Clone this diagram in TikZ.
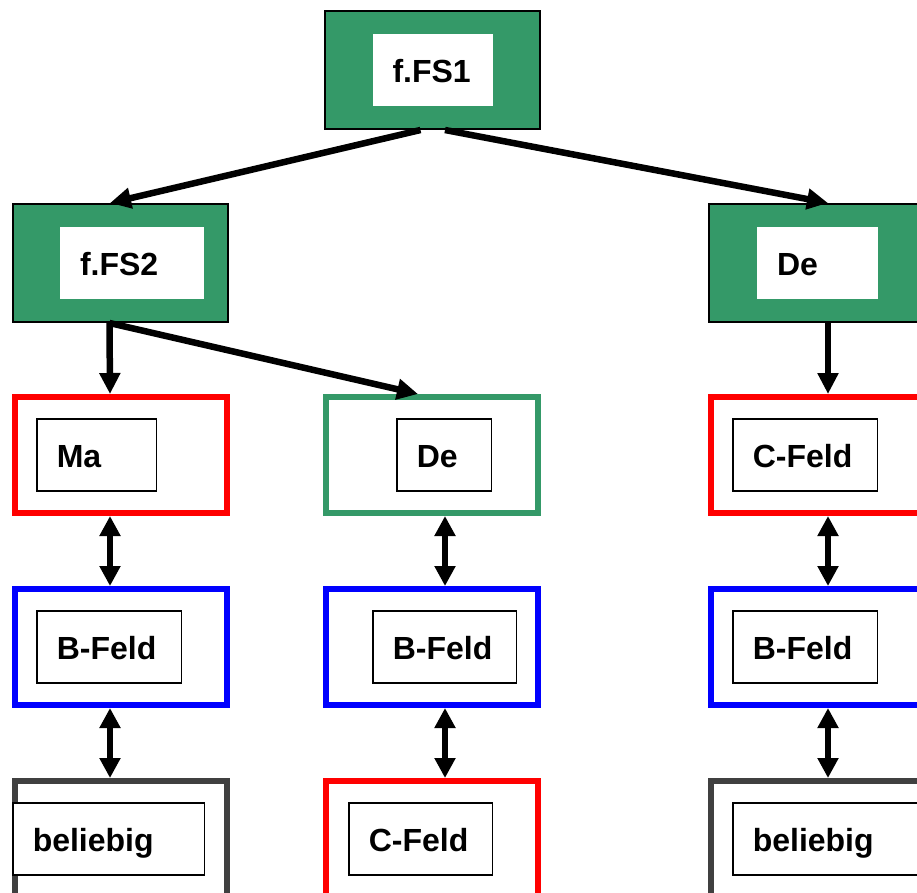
\documentclass[tikz,border=0pt]{standalone}
\usepackage{fontspec}
\setmainfont{Liberation Sans}
\usetikzlibrary{arrows.meta}
\definecolor{fsgreen}{RGB}{52,153,104}
\definecolor{framegray}{RGB}{64,64,64}
\tikzset{
  gbox/.style={draw=black,line width=2pt,fill=fsgreen,minimum width=215pt,minimum height=118pt,inner sep=0pt},
  fbox/.style={draw=#1,line width=6pt,minimum width=212pt,minimum height=116pt,inner sep=0pt},
  wbox/.style={fill=white,minimum height=72pt,inner xsep=20pt,inner ysep=0pt,text width=#1,align=left,
    font=\bfseries\fontsize{32}{37}\selectfont,text height=24pt,text depth=0pt},
  inbox/.style={wbox=#1,draw=black,line width=1.5pt},
  arr/.style={line width=6.5pt,-{Triangle[length=21pt,width=20pt]}},
  darr/.style={line width=6.5pt,{Triangle[length=20pt,width=20pt]}-{Triangle[length=20pt,width=20pt]}}
}
\begin{document}
\begin{tikzpicture}[x=1pt,y=-1pt]
            \useasboundingbox (0,0) rectangle (917,892);
            \clip (0,0) rectangle (917,892);
            % outer boxes
            \node[gbox] (fsone) at (432.5,70) {};
            \node[gbox] (fstwo) at (120.5,263) {};
            \node[gbox] (deR) at (816.5,263) {};
            \node[fbox=red] (ma) at (121,455) {};
            \node[fbox=fsgreen] (deM) at (432,455) {};
            \node[fbox=red] (cfR) at (816.5,455) {};
            \node[fbox=blue] (bfL) at (121,647) {};
            \node[fbox=blue] (bfM) at (432,647) {};
            \node[fbox=blue] (bfR) at (816.5,647) {};
            \node[fbox=framegray] (belL) at (121,839) {};
            \node[fbox=red] (cfM) at (432,839) {};
            \node[fbox=framegray] (belR) at (816.5,839) {};
            % inner boxes
            \node[wbox=80pt] (fsone-t) at (fsone.center) {f.FS1};
            \node[wbox=104pt] (fstwo-t) at ([xshift=11.5pt]fstwo.center) {f.FS2};
            \node[wbox=81pt] (deR-t) at ([xshift=1pt]deR.center) {De};
            \node[inbox=79.5pt] (ma-t) at ([xshift=-24.5pt]ma.center) {Ma};
            \node[inbox=54.5pt] (deM-t) at ([xshift=12pt]deM.center) {De};
            \node[inbox=104.5pt] (cfR-t) at ([xshift=-11.5pt]cfR.center) {C-Feld};
            \node[inbox=104.5pt] (bfL-t) at ([xshift=-12pt]bfL.center) {B-Feld};
            \node[inbox=103.5pt] (bfM-t) at ([xshift=12.5pt]bfM.center) {B-Feld};
            \node[inbox=104.5pt] (bfR-t) at ([xshift=-11.5pt]bfR.center) {B-Feld};
            \node[inbox=151.5pt] (belL-t) at ([xshift=-12.5pt]belL.center) {beliebig};
            \node[inbox=103.5pt] (cfM-t) at ([xshift=-11.5pt]cfM.center) {C-Feld};
            \node[inbox=151.5pt] (belR-t) at ([xshift=12pt]belR.center) {beliebig};
            % arrows
            \draw[arr] ([xshift=-12pt]fsone.south) -- ([xshift=-10.5pt]fstwo.north);
            \draw[arr] ([xshift=12.5pt]fsone.south) -- ([xshift=11.5pt]deR.north);
            \draw[arr] ([xshift=-11pt]fstwo.south) -- ([xshift=-11pt]ma.north);
            \draw[arr] ([xshift=-11pt]fstwo.south) -- ([xshift=-14pt]deM.north);
            \draw[arr] ([xshift=11.5pt]deR.south) -- ([xshift=11.5pt]cfR.north);
            \draw[darr] ([xshift=-11pt]ma.south) -- ([xshift=-11pt]bfL.north);
            \draw[darr] ([xshift=-11pt]bfL.south) -- ([xshift=-11pt]belL.north);
            \draw[darr] ([xshift=13pt]deM.south) -- ([xshift=13pt]bfM.north);
            \draw[darr] ([xshift=13pt]bfM.south) -- ([xshift=13pt]cfM.north);
            \draw[darr] ([xshift=11.5pt]cfR.south) -- ([xshift=11.5pt]bfR.north);
            \draw[darr] ([xshift=11.5pt]bfR.south) -- ([xshift=11.5pt]belR.north);
        \end{tikzpicture}
\end{document}
